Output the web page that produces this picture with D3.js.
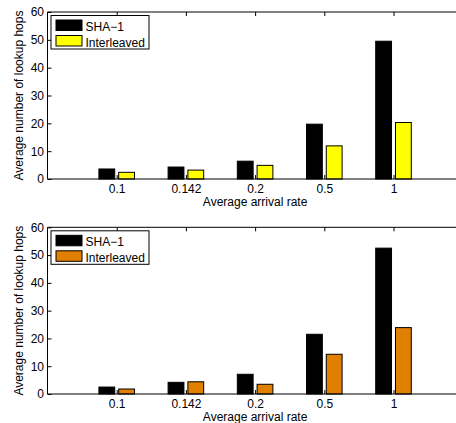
<!DOCTYPE html>
<html>
<head>
<meta charset="utf-8">
<script src="https://cdn.jsdelivr.net/npm/d3@7"></script>
<style>
  body { margin: 0; background: #fff; }
  text { font-family: "Liberation Sans", Arial, sans-serif; font-size: 12px; fill: #000; }
</style>
</head>
<body>
<div id="chart"></div>
<script>
// data
var rates = ["0.1", "0.142", "0.2", "0.5", "1"];
var yTicks = [0, 10, 20, 30, 40, 50, 60];
var seriesNames = ["SHA\u22121", "Interleaved"];

// top panel
var shaTop = [3.6, 4.3, 6.4, 19.7, 49.5];
var interTop = [2.4, 3.2, 4.9, 11.9, 20.3];

// bottom panel
var shaBottom = [2.5, 4.2, 7.1, 21.5, 52.5];
var interBottom = [1.8, 4.4, 3.5, 14.3, 23.9];

var svgWidth = 456;
var svgHeight = 423;

var svg = d3.select("#chart").append("svg")
    .attr("width", svgWidth)
    .attr("height", svgHeight);

// x position 0..6, categories sit at 1..5 (matlab style)
var xScale = d3.scaleLinear()
    .domain([0, 6])
    .range([47.5, 47.5 + 6 * 69.2]);

var groupWidth = 2 / 3.5;
var barWidth = groupWidth / 2 * 0.8;
var barOffset = groupWidth / 4;

function drawPanel(top, bottom, sha, inter, color) {
    var yScale = d3.scaleLinear().domain([0, 60]).range([bottom, top]);
    var g = svg.append("g");
    var left = xScale(0), right = xScale(6);

    // bars
    var rows = rates.map(function (r, i) {
        return { pos: i + 1, sha: sha[i], inter: inter[i] };
    });

    g.selectAll(".sha").data(rows).enter().append("rect")
        .attr("x", d => xScale(d.pos - barOffset - barWidth / 2))
        .attr("width", xScale(barWidth) - xScale(0))
        .attr("y", d => yScale(d.sha))
        .attr("height", d => yScale(0) - yScale(d.sha))
        .attr("fill", "#000")
        .attr("stroke", "#000")
        .attr("stroke-width", 1);

    g.selectAll(".inter").data(rows).enter().append("rect")
        .attr("x", d => xScale(d.pos + barOffset - barWidth / 2))
        .attr("width", xScale(barWidth) - xScale(0))
        .attr("y", d => yScale(d.inter))
        .attr("height", d => yScale(0) - yScale(d.inter))
        .attr("fill", color)
        .attr("stroke", "#000")
        .attr("stroke-width", 1);

    // box lines
    g.append("line").attr("x1", left).attr("x2", right)
        .attr("y1", yScale(0)).attr("y2", yScale(0)).attr("stroke", "#000");
    g.append("line").attr("x1", left).attr("x2", right)
        .attr("y1", yScale(60)).attr("y2", yScale(60)).attr("stroke", "#000");
    g.append("line").attr("x1", left).attr("x2", left)
        .attr("y1", yScale(0)).attr("y2", yScale(60)).attr("stroke", "#000");

    // x ticks (inside, bottom and top)
    var xAxisBottom = d3.axisBottom(xScale)
        .tickValues([1, 2, 3, 4, 5])
        .tickFormat((d, i) => rates[i])
        .tickSizeInner(-4)
        .tickSizeOuter(0)
        .tickPadding(5);
    var xb = g.append("g")
        .attr("transform", `translate(0, ${yScale(0)})`)
        .call(xAxisBottom);
    xb.select(".domain").remove();
    xb.selectAll("text").attr("font-size", "12px").attr("font-family", null);

    var xAxisTop = d3.axisTop(xScale)
        .tickValues([1, 2, 3, 4, 5])
        .tickFormat("")
        .tickSizeInner(-4)
        .tickSizeOuter(0);
    var xt = g.append("g")
        .attr("transform", `translate(0, ${yScale(60)})`)
        .call(xAxisTop);
    xt.select(".domain").remove();

    // y ticks (inside)
    var yAxis = d3.axisLeft(yScale)
        .tickValues(yTicks)
        .tickSizeInner(-4)
        .tickSizeOuter(0)
        .tickPadding(3.5);
    var ya = g.append("g")
        .attr("transform", `translate(${left}, 0)`)
        .call(yAxis);
    ya.select(".domain").remove();
    ya.selectAll("text").attr("font-size", "12px").attr("font-family", null);

    // axis labels
    g.append("text")
        .attr("x", xScale(3))
        .attr("y", yScale(0) + 26.5)
        .attr("text-anchor", "middle")
        .text("Average arrival rate");

    g.append("text")
        .attr("transform", `translate(22.5, ${(yScale(0) + yScale(60)) / 2}) rotate(-90)`)
        .attr("text-anchor", "middle")
        .text("Average number of lookup hops");

    // legend
    var lg = g.append("g").attr("transform", `translate(51, ${top + 3.5})`);
    lg.append("rect")
        .attr("width", 98).attr("height", 33.5)
        .attr("fill", "#fff").attr("stroke", "#000");
    var colors = ["#000", color];
    seriesNames.forEach(function (name, i) {
        lg.append("rect")
            .attr("x", 5).attr("y", 4.5 + i * 15.5)
            .attr("width", 26).attr("height", 10.5)
            .attr("fill", colors[i]).attr("stroke", "#000");
        lg.append("text")
            .attr("x", 34.5).attr("y", 15 + i * 16)
            .text(name);
    });
}

drawPanel(12, 179, shaTop, interTop, "#ffff00");
drawPanel(227.3, 394, shaBottom, interBottom, "#e07f00");
</script>
</body>
</html>
